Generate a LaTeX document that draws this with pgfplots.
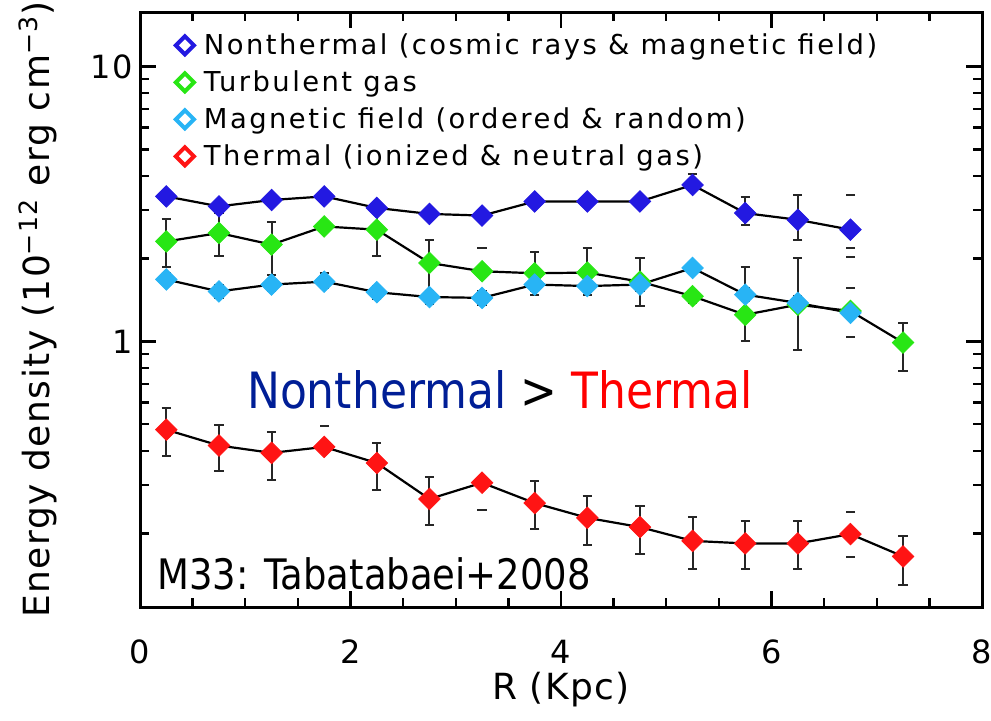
\documentclass[border=0pt]{standalone}
\usepackage{pgfplots}
\pgfplotsset{compat=1.18}
\usepackage{fontspec}
\setmainfont{Liberation Sans}
\newfontfamily\annfont{DejaVu Sans}[FakeStretch=0.88]
\newfontfamily\legfont{DejaVu Sans}[LetterSpace=9]
\newfontfamily\labfont{DejaVu Sans}[LetterSpace=4]
\definecolor{ntblue}{RGB}{35,25,225}
\definecolor{tgreen}{RGB}{40,230,20}
\definecolor{mcyan}{RGB}{40,180,245}
\definecolor{thred}{RGB}{255,20,20}
\definecolor{annblue}{RGB}{0,30,150}
\definecolor{annred}{RGB}{255,0,0}

\pgfplotstableread{
x y ep em
0.25 3.37 0.10 0.10
0.75 3.10 0.10 0.10
1.25 3.27 0.10 0.10
1.75 3.37 0.10 0.10
2.25 3.06 0.10 0.10
2.75 2.91 0.10 0.10
3.25 2.87 0.10 0.10
3.75 3.23 0.10 0.10
4.25 3.23 0.10 0.10
4.75 3.23 0.10 0.10
5.25 3.71 0.36 0.10
5.75 2.93 0.42 0.27
6.25 2.77 0.64 0.43
6.75 2.55 0 0
}\nonthermal

\pgfplotstableread{
x y ep em
0.25 2.31 0.48 0.44
0.75 2.48 0.45 0.44
1.25 2.25 0.48 0.50
1.75 2.62 0.10 0.10
2.25 2.55 0.50 0.51
2.75 1.93 0.41 0.40
3.25 1.80 0 0
3.75 1.77 0.35 0.30
4.25 1.78 0.40 0.30
4.75 1.65 0.36 0.31
5.25 1.46 0.08 0.08
5.75 1.25 0.62 0.25
6.25 1.36 0.65 0.43
6.75 1.29 0 0
7.25 0.99 0.18 0.21
}\turbulent

\pgfplotstableread{
x y ep em
0.25 1.68 0.10 0.08
0.75 1.52 0.08 0.08
1.25 1.61 0.08 0.08
1.75 1.65 0.12 0.08
2.25 1.51 0.08 0.08
2.75 1.45 0.08 0.08
3.25 1.44 0.08 0.08
3.75 1.61 0.08 0.08
4.25 1.59 0.08 0.08
4.75 1.61 0.08 0.08
5.25 1.85 0.08 0.08
5.75 1.48 0.08 0.08
6.25 1.38 0.08 0.08
6.75 1.27 0 0
}\magnetic

\pgfplotstableread{
x y ep em
0.25 0.477 0.096 0.095
0.75 0.418 0.080 0.081
1.25 0.393 0.074 0.081
1.75 0.413 0 0
2.25 0.361 0.066 0.074
2.75 0.267 0.054 0.053
3.25 0.306 0 0
3.75 0.258 0.052 0.050
4.25 0.228 0.045 0.046
4.75 0.211 0.040 0.043
5.25 0.188 0.042 0.039
5.75 0.184 0.038 0.035
6.25 0.184 0.038 0.035
6.75 0.199 0 0
7.25 0.165 0.031 0.035
}\thermal

\begin{document}
\begin{tikzpicture}
\begin{axis}[
  scale only axis, width=421bp, height=297.5bp,
  ymode=log, xmin=0, xmax=8, ymin=0.108, ymax=15.8,
  xtick={0,2,4,6,8}, minor x tick num=3,
  ytick={1,10}, yticklabels={1,10},
  minor ytick={0.2,0.3,0.4,0.5,0.6,0.7,0.8,0.9,2,3,4,5,6,7,8,9},
  axis line style={line width=1.5bp},
  major tick length=8bp, minor tick length=4.5bp,
  every tick/.style={black, line width=1.2bp},
  tick label style={font=\labfont\fontsize{16bp}{19bp}\selectfont},
  /pgf/number format/assume math mode=true,
  xticklabel style={yshift=-13bp},
  xlabel={R (Kpc)},
  ylabel={Energy density (10\textsuperscript{−12} erg cm\textsuperscript{−3})},
  label style={font=\labfont\fontsize{18bp}{21bp}\selectfont},
  xlabel style={at={(axis description cs:0.5,-0.1395)}, anchor=center},
  ylabel style={at={(axis description cs:-0.121,0.5)}, anchor=center, rotate=0},
  legend style={draw=none, fill=none, at={(0.035,0.978)}, anchor=north west,
    font=\legfont\fontsize{13.7bp}{16bp}\selectfont, row sep=2.6bp, column sep=3bp},
  legend cell align=left,
]
\addlegendimage{only marks, mark=square*, mark size=3.2bp, mark options={rotate=45, draw=ntblue, fill=white, line width=2bp}}
\addlegendentry{Nonthermal (cosmic rays \& magnetic field)}
\addlegendimage{only marks, mark=square*, mark size=3.2bp, mark options={rotate=45, draw=tgreen, fill=white, line width=2bp}}
\addlegendentry{Turbulent gas}
\addlegendimage{only marks, mark=square*, mark size=3.2bp, mark options={rotate=45, draw=mcyan, fill=white, line width=2bp}}
\addlegendentry{Magnetic field (ordered \& random)}
\addlegendimage{only marks, mark=square*, mark size=3.2bp, mark options={rotate=45, draw=thred, fill=white, line width=2bp}}
\addlegendentry{Thermal (ionized \& neutral gas)}

% coloured markers
\addplot[forget plot, only marks, mark=square*, mark size=3.8bp, mark options={rotate=45, draw=ntblue, fill=ntblue}] table[x=x,y=y] {\nonthermal};
\addplot[forget plot, only marks, mark=square*, mark size=3.8bp, mark options={rotate=45, draw=tgreen, fill=tgreen}] table[x=x,y=y] {\turbulent};
\addplot[forget plot, only marks, mark=square*, mark size=3.8bp, mark options={rotate=45, draw=mcyan, fill=mcyan}] table[x=x,y=y] {\magnetic};
\addplot[forget plot, only marks, mark=square*, mark size=3.8bp, mark options={rotate=45, draw=thred, fill=thred}] table[x=x,y=y] {\thermal};

% black lines with error bars
\pgfplotsset{eb/.style={forget plot, black, line width=1.1bp, mark=none,
  error bars/.cd, y dir=both, y explicit,
  error bar style={line width=1bp, black!85},
  error mark options={rotate=90, black!85, line width=1bp, mark size=2.3bp}}}
\addplot[eb] table[x=x,y=y,y error plus=ep,y error minus=em] {\nonthermal};
\addplot[eb] table[x=x,y=y,y error plus=ep,y error minus=em] {\turbulent};
\addplot[eb] table[x=x,y=y,y error plus=ep,y error minus=em] {\magnetic};
\addplot[eb] table[x=x,y=y,y error plus=ep,y error minus=em] {\thermal};

% isolated error caps
\addplot[forget plot, only marks, mark=-, mark size=2.3bp, mark options={black!85, line width=1bp}] coordinates {
(1.75,0.494) (3.25,0.244) (6.75,0.239) (6.75,0.164) (3.25,2.18)
(6.75,3.41) (6.75,2.19) (6.75,2.03) (6.75,1.56) (6.75,1.04)};

\node[anchor=base west, inner sep=0pt, font=\annfont\fontsize{25bp}{30bp}\selectfont, text=annblue]
  at (axis cs:1.014,0.569) {Nonthermal \textcolor{black}{>} \textcolor{annred}{Thermal}};
\node[anchor=base west, inner sep=0pt, font=\annfont\fontsize{21bp}{25bp}\selectfont, text=black]
  at (axis cs:0.16,0.125) {M33: Tabatabaei+2008};
\end{axis}
\pgfresetboundingbox
\path ([xshift=-70bp,yshift=-56.5bp]current axis.south west) rectangle ([xshift=4.5bp,yshift=6bp]current axis.north east);
\end{tikzpicture}
\end{document}
